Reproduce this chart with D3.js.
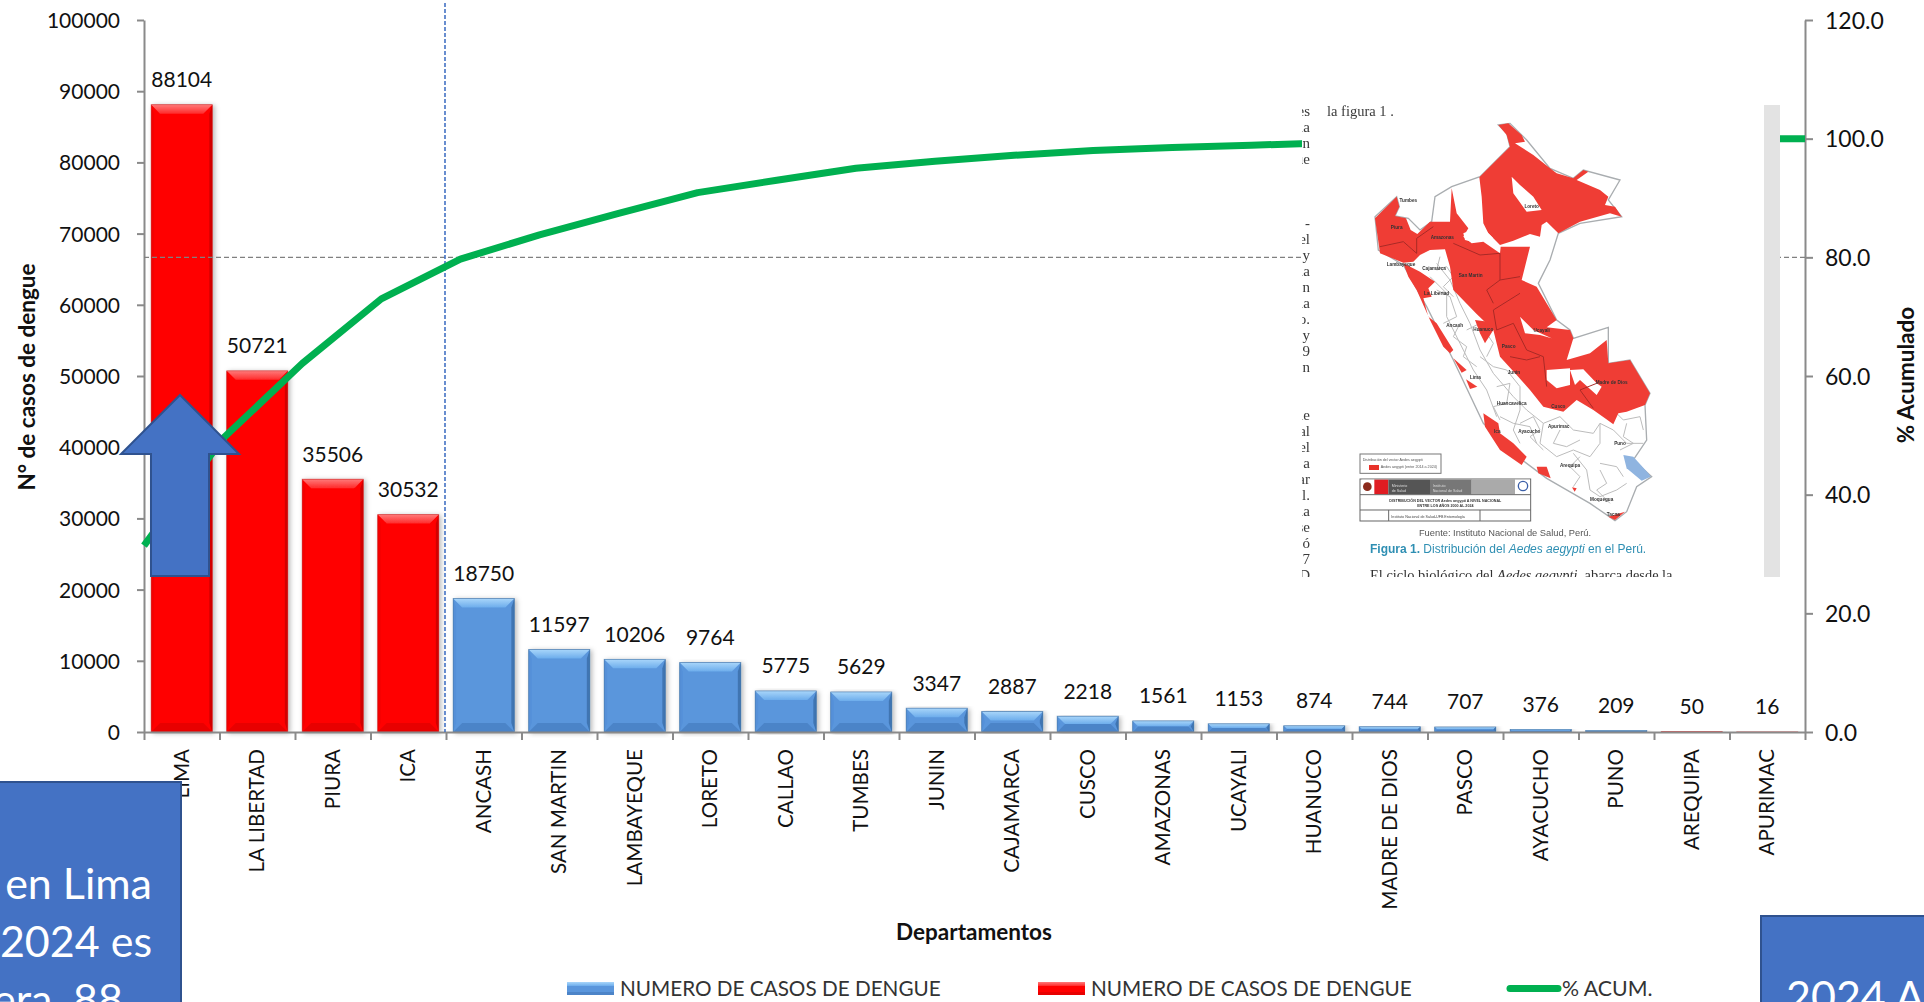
<!DOCTYPE html>
<html lang="es">
<head>
<meta charset="utf-8">
<title>Casos de dengue por departamento</title>
<script src="https://cdn.jsdelivr.net/npm/d3@7"></script>
<style>
  html, body { margin: 0; padding: 0; background: #fff; overflow: hidden; }
  svg { display: block; }
</style>
</head>
<body>
<svg id="chart" width="1924" height="1002" font-family="Lato"></svg>
<script>
// Departamentos ordenados de mayor a menor número de casos
const categories = ["LIMA","LA LIBERTAD","PIURA","ICA","ANCASH","SAN MARTIN","LAMBAYEQUE","LORETO","CALLAO","TUMBES","JUNIN","CAJAMARCA","CUSCO","AMAZONAS","UCAYALI","HUANUCO","MADRE DE DIOS","PASCO","AYACUCHO","PUNO","AREQUIPA","APURIMAC"];
const casosAzul = [null,null,null,null,18750,11597,10206,9764,5775,5629,3347,2887,2218,1561,1153,874,744,707,376,209,null,null];
const casosRojo = [88104,50721,35506,30532,null,null,null,null,null,null,null,null,null,null,null,null,null,null,null,null,50,16];
const porcentajeAcumulado = [31.4,49.5,62.1,73.0,79.7,83.8,87.4,90.9,93.0,95.0,96.2,97.2,98.0,98.5,98.9,99.3,99.5,99.8,99.9,100.0,100.0,100.0];
const ticksCasos = [0,10000,20000,30000,40000,50000,60000,70000,80000,90000,100000];
const ticksPorcentaje = [0,20,40,60,80,100,120];
const leyenda = ["NUMERO DE CASOS DE DENGUE","NUMERO DE CASOS DE DENGUE","% ACUM."];

const svg = d3.select("#chart");
const defs = svg.append("defs");

const plotLeft = 144, plotRight = 1805, plotTop = 20, plotBottom = 732;
const x = d3.scaleBand().domain(categories).range([plotLeft, plotRight]).paddingInner(0.19).paddingOuter(0.095);
const xEdges = d3.scaleLinear().domain([0, categories.length]).range([plotLeft, plotRight]);
const xLine = d3.scalePoint().domain(categories).range([plotLeft, plotRight]);
const yCases = d3.scaleLinear().domain([0, 100000]).range([plotBottom, plotTop]);
const yPct = d3.scaleLinear().domain([0, 120]).range([plotBottom, plotTop]);

const shadow = defs.append("filter").attr("id", "barShadow")
  .attr("x", "-10%").attr("y", "-5%").attr("width", "125%").attr("height", "112%");
shadow.append("feDropShadow").attr("dx", 2).attr("dy", 1).attr("stdDeviation", 2.5)
  .attr("flood-color", "#000").attr("flood-opacity", 0.28);
defs.append("filter").attr("id", "soft").append("feGaussianBlur").attr("stdDeviation", 0.5);
defs.append("clipPath").attr("id", "insetClip").append("rect")
  .attr("x", 1302).attr("y", 105).attr("width", 478).attr("height", 472);

function addGradient(id, a, b) {
  const g = defs.append("linearGradient").attr("id", id).attr("x1", 0).attr("y1", 0).attr("x2", 0).attr("y2", 1);
  g.append("stop").attr("offset", "0%").attr("stop-color", a);
  g.append("stop").attr("offset", "100%").attr("stop-color", b);
}
addGradient("bevelBlue", "#a9d6fa", "#6dadec");
addGradient("bevelRed", "#ff7a7a", "#ff2a2a");

const paletteBlue = { face: "#5a96dc", topFill: "url(#bevelBlue)", bottomFill: "#4c84c8", leftFill: "#5490d8", rightFill: "#3f74b2", edge: "#41709f" };
const paletteRed  = { face: "#ff0000", topFill: "url(#bevelRed)",  bottomFill: "#e80000", leftFill: "#f40000", rightFill: "#d20000", edge: "#c43a3a" };

// Barra con biselado: cara central y cuatro trapecios en los bordes
function drawBars(values, palette) {
  const rows = categories.map((c, i) => ({ c, v: values[i] })).filter(d => d.v !== null);
  const g = svg.append("g").selectAll("g").data(rows).join("g").attr("filter", "url(#barShadow)");
  g.each(function (d) {
    const sel = d3.select(this);
    const x0 = x(d.c), x1 = x0 + x.bandwidth(), y0 = yCases(d.v), y1 = yCases(0);
    const b = Math.min(9, (y1 - y0) / 2);
    const poly = (pts, fill) => sel.append("polygon").attr("points", pts.map(p => p.join(",")).join(" ")).attr("fill", fill);
    sel.append("rect").attr("x", x0).attr("y", y0).attr("width", x1 - x0).attr("height", y1 - y0).attr("fill", palette.face);
    poly([[x0, y0], [x1, y0], [x1 - b, y0 + b], [x0 + b, y0 + b]], palette.topFill);
    poly([[x0, y1], [x1, y1], [x1 - b, y1 - b], [x0 + b, y1 - b]], palette.bottomFill);
    poly([[x0, y0], [x0 + Math.min(b, 3), y0 + b], [x0 + Math.min(b, 3), y1 - b], [x0, y1]], palette.leftFill);
    poly([[x1, y0], [x1 - Math.min(b, 3), y0 + b], [x1 - Math.min(b, 3), y1 - b], [x1, y1]], palette.rightFill);
    sel.append("rect").attr("x", x0).attr("y", y0).attr("width", x1 - x0).attr("height", y1 - y0)
      .attr("fill", "none").attr("stroke", palette.edge).attr("stroke-width", 0.8).attr("stroke-opacity", 0.7);
  });
}
drawBars(casosAzul, paletteBlue);
drawBars(casosRojo, paletteRed);

// Ejes
const axisColor = "#8a8a8a";
function styleAxis(g, size) {
  g.selectAll(".domain").attr("stroke", axisColor).attr("stroke-width", 2);
  g.selectAll(".tick line").attr("stroke", axisColor).attr("stroke-width", 2);
  g.selectAll("text").attr("fill", "#111").attr("font-size", size).attr("font-family", "Lato").attr("dy", "0.36em");
}
svg.append("g").attr("transform", `translate(${plotLeft},0)`)
  .call(d3.axisLeft(yCases).tickValues(ticksCasos).tickFormat(d3.format("d")).tickSize(7).tickPadding(17).tickSizeOuter(0))
  .call(styleAxis, 21);
svg.append("g").attr("transform", `translate(${plotRight},0)`)
  .call(d3.axisRight(yPct).tickValues(ticksPorcentaje).tickFormat(d3.format(".1f")).tickSize(8).tickPadding(12).tickSizeOuter(0))
  .call(styleAxis, 23);
svg.append("g").attr("transform", `translate(0,${plotBottom})`)
  .call(d3.axisBottom(xEdges).tickValues(d3.range(categories.length + 1)).tickFormat("").tickSize(8).tickSizeOuter(0))
  .call(styleAxis, 21);
const catAxis = svg.append("g").attr("transform", `translate(0,${plotBottom})`)
  .call(d3.axisBottom(x).tickSize(0).tickPadding(0));
catAxis.select(".domain").remove();
catAxis.selectAll("text")
  .attr("font-size", 20.6).attr("font-family", "Lato").attr("fill", "#111")
  .attr("text-anchor", "end").attr("dy", "0.35em")
  .attr("transform", "translate(0,17) rotate(-90)").attr("x", 0).attr("y", 0);

// Valores sobre las barras
categories.forEach((c, i) => {
  const v = casosAzul[i] !== null ? casosAzul[i] : casosRojo[i];
  svg.append("text").attr("x", x(c) + x.bandwidth() / 2).attr("y", yCases(v) - 17.5)
    .attr("text-anchor", "middle").attr("font-size", 21).attr("fill", "#111").text(v);
});

// Títulos de ejes
svg.append("text").attr("transform", "translate(35,377) rotate(-90)").attr("text-anchor", "middle")
  .attr("font-size", 22.5).attr("font-weight", 700).attr("fill", "#111").text("N° de casos de dengue");
svg.append("text").attr("transform", "translate(1914,375) rotate(-90)").attr("text-anchor", "middle")
  .attr("font-size", 22.5).attr("font-weight", 700).attr("fill", "#111").text("% Acumulado");
svg.append("text").attr("x", 974).attr("y", 940).attr("text-anchor", "middle")
  .attr("font-size", 22.5).attr("font-weight", 700).attr("fill", "#111").text("Departamentos");

// Líneas de referencia del 80 %
svg.append("line").attr("x1", plotLeft).attr("x2", plotRight).attr("y1", yPct(80)).attr("y2", yPct(80))
  .attr("stroke", "#808080").attr("stroke-width", 1.4).attr("stroke-dasharray", "5 3");
svg.append("line").attr("x1", 445).attr("x2", 445).attr("y1", 3).attr("y2", plotBottom)
  .attr("stroke", "#4472c4").attr("stroke-width", 1.6).attr("stroke-dasharray", "4 2");

// Curva de porcentaje acumulado
svg.append("path").datum(porcentajeAcumulado)
  .attr("d", d3.line().x((d, i) => xLine(categories[i])).y(d => yPct(d)))
  .attr("fill", "none").attr("stroke", "#00b050").attr("stroke-width", 7).attr("stroke-linejoin", "round");

// Recuadro con la figura del vector en el Perú
const inset = svg.append("g").attr("clip-path", "url(#insetClip)");
inset.append("rect").attr("x", 1302).attr("y", 105).attr("width", 478).attr("height", 472).attr("fill", "#fff");
inset.append("rect").attr("x", 1764).attr("y", 105).attr("width", 16).attr("height", 472).attr("fill", "#e3e3e3");
const figure = inset.append("g").attr("filter", "url(#soft)");

const fragmentos = ["es","ia","en","ue","","","","-","del","y","la","on","la","o.","y","9","en","","","le","al","el","a","ar","l.","ia","se","ó","7","D","n"];
figure.selectAll("text.frag").data(fragmentos).join("text").attr("class", "frag")
  .attr("x", 1310).attr("y", (d, i) => 116 + i * 16).attr("text-anchor", "end")
  .attr("font-family", "Liberation Serif").attr("font-size", 15).attr("fill", "#3a3a3a").text(d => d);
figure.append("text").attr("x", 1327).attr("y", 116).attr("font-family", "Liberation Serif")
  .attr("font-size", 14.5).attr("fill", "#3a3a3a").text("la figura 1 .");

const map = figure.append("g").attr("transform", "translate(1280,90) scale(0.33333)");
const outlinePeru = "M655,105L690,100L740,150L810,235L880,265L910,240L1020,270L985,330L1025,380L900,400L835,430L810,510L775,580L830,690L870,720L880,745L985,712L985,820L1050,810L1110,910L1095,945L1100,1050L1060,1110L1115,1160L1070,1190L1040,1265L1005,1292L930,1240L800,1165L700,1090L610,1000L520,810L440,650L370,525L295,480L285,380L350,320L358,350L345,378L385,385L420,420L455,395L465,320L515,290L600,260L690,170L680,130Z";
const zonasRojas = [
  "M655,105L685,100L725,135L735,155L705,160L760,195L810,235L830,250L880,265L910,240L925,245L890,270L960,300L985,320L975,345L1005,350L1025,380L990,370L900,395L835,430L800,395L785,405L780,440L750,432L700,452L660,465L625,430L610,400L605,320L598,262L640,220L690,170L680,135Z",
  "M350,320L358,350L345,378L378,385L392,420L412,432L450,395L510,395L515,295L530,370L565,415L550,440L575,460L610,455L660,490L662,470L700,470L750,470L725,570L770,590L830,690L800,712L870,720L880,745L860,810L930,790L980,750L985,820L1050,810L1110,910L1095,945L1040,965L1015,970L1000,1003L975,985L940,960L890,930L850,965L790,950L750,900L710,855L660,800L640,720L590,672L520,600L510,530L495,478L450,480L420,495L400,515L370,518L300,490L285,385Z",
  "M370,520L420,545L465,575L445,595L455,620L430,625L445,680L470,700L520,780L510,790L490,770L450,690L410,600L385,560Z",
  "M520,805L560,840L545,848Z",
  "M558,868L592,890L570,897Z",
  "M610,970L655,1000L660,1030L700,1060L740,1100L725,1125L660,1080L615,1010Z",
  "M770,1130L800,1130L812,1165L775,1150Z",
  "M876,1192L890,1195L884,1205Z",
  "M985,1280L1035,1265L1005,1290Z",
  "M585,690L625,695L640,720L615,760L600,730Z"
];
const huecos = [
  "M695,260L720,285L760,320L785,360L740,365L700,310Z",
  "M720,680L760,720L815,745L780,735L735,730Z",
  "M800,840L870,835L870,885L830,895L800,870Z",
  "M870,840L910,838L950,880L965,890L950,915L900,870L885,885Z",
  "M610,415L640,445L600,432L565,425L575,455L555,450L550,430L580,418Z"
];
const limitesGrises = [
  "M470,520L510,570L540,640L570,700L600,780L640,850L700,920L740,960",
  "M450,560L500,610L500,680L540,760L580,840L620,900L650,980",
  "M600,800L640,830L680,840L720,890L720,960L700,1020L720,1060",
  "M740,960L790,1000L780,1060L830,1100L880,1080L930,1100L960,1060L960,1000",
  "M790,1000L840,980L880,1020L940,1030L960,1000L1000,1020L1040,1060L1090,1060",
  "M880,1090L920,1140L930,1200L960,1220L1010,1200L1040,1180",
  "M960,1120L1010,1130L1030,1160",
  "M560,720L600,700L640,760L620,800",
  "M470,600L510,620L530,680L490,700",
  "M660,980L700,1000L750,1010L770,1060",
  "M480,500L470,540L500,530L520,560L490,590L520,620",
  "M540,700L520,740L560,770L550,800L590,830",
  "M650,890L690,880L680,940L640,950L660,990",
  "M720,1000L760,980L780,1020L750,1040L790,1080",
  "M840,1020L820,1060L860,1070L900,1050",
  "M900,1100L870,1130L900,1160L880,1190",
  "M960,1140L980,1180L950,1200L990,1240",
  "M1040,1000L1030,1040L1060,1060L1020,1080",
  "M1000,960L1030,990L1080,980L1090,1020"
];
const limitesRojos = [
  "M520,460L600,495L660,490L660,570L620,600L640,640",
  "M660,570L720,560M720,610L640,660L650,720L700,700L740,780L790,800L800,890",
  "M300,470L370,455L410,490L410,445L460,410",
  "M780,800L740,810L690,800M950,880L900,900L940,955"
];
map.append("path").attr("d", outlinePeru).attr("fill", "#fff").attr("stroke", "#a9adb0").attr("stroke-width", 4);
map.selectAll("path.gris").data(limitesGrises).join("path").attr("class", "gris").attr("d", d => d)
  .attr("fill", "none").attr("stroke", "#bcbcbc").attr("stroke-width", 3);
map.selectAll("path.rojo").data(zonasRojas).join("path").attr("class", "rojo").attr("d", d => d).attr("fill", "#ef3d36");
map.selectAll("path.hueco").data(huecos).join("path").attr("class", "hueco").attr("d", d => d).attr("fill", "#fff");
map.selectAll("path.borde").data(limitesRojos).join("path").attr("class", "borde").attr("d", d => d)
  .attr("fill", "none").attr("stroke", "#a92a26").attr("stroke-width", 3);
map.append("path").attr("d", "M1030,1095L1060,1100L1105,1150L1112,1160L1085,1172L1040,1135Z").attr("fill", "#8fb4e0");

const nombresMapa = [["Tumbes",385,335],["Piura",350,418],["Amazonas",487,448],["Lambayeque",363,527],["Cajamarca",462,541],["San Martin",572,562],["La Libertad",470,615],["Loreto",755,355],["Ancash",524,712],["Huanuco",610,722],["Ucayali",785,725],["Pasco",686,773],["Lima",586,866],["Junin",702,852],["Madre de Dios",995,882],["Huancavelica",695,946],["Cusco",835,955],["Ayacucho",748,1028],["Apurimac",836,1014],["Ica",652,1028],["Puno",1020,1064],["Arequipa",870,1130],["Moquegua",965,1233],["Tacna",1000,1278]];
map.selectAll("text.lugar").data(nombresMapa).join("text").attr("class", "lugar")
  .attr("x", d => d[1]).attr("y", d => d[2]).attr("text-anchor", "middle")
  .attr("font-family", "Liberation Sans").attr("font-size", 14).attr("font-weight", 700).attr("fill", "#333").text(d => d[0]);

// Leyenda y rótulo del mapa
map.append("rect").attr("x", 240).attr("y", 1092).attr("width", 243).attr("height", 58).attr("fill", "#fff").attr("stroke", "#777").attr("stroke-width", 3);
map.append("rect").attr("x", 267).attr("y", 1125).attr("width", 30).attr("height", 15).attr("fill", "#e8322c");
map.append("text").attr("x", 248).attr("y", 1113).attr("font-family", "Liberation Sans").attr("font-size", 11).attr("fill", "#555").text("Distribución del vector Aedes aegypti");
map.append("text").attr("x", 302).attr("y", 1135).attr("font-family", "Liberation Sans").attr("font-size", 11).attr("fill", "#555").text("Aedes aegypti (entre 2014 a 2024)");
map.append("rect").attr("x", 240).attr("y", 1167).attr("width", 512).attr("height", 126).attr("fill", "#fff").attr("stroke", "#666").attr("stroke-width", 3);
[[245, 38, "#fff"], [283, 42, "#e01b22"], [325, 125, "#555"], [450, 125, "#777"], [575, 130, "#aaa"], [705, 45, "#fff"]].forEach(d => {
  map.append("rect").attr("x", d[0]).attr("y", 1169).attr("width", d[1]).attr("height", 44).attr("fill", d[2]);
});
map.append("circle").attr("cx", 262).attr("cy", 1190).attr("r", 13).attr("fill", "#8b2c1a");
map.append("circle").attr("cx", 729).attr("cy", 1188).attr("r", 14).attr("fill", "none").attr("stroke", "#3a5ea8").attr("stroke-width", 4);
[["Ministerio", 335, 1190], ["de Salud", 335, 1205], ["Instituto", 458, 1190], ["Nacional de Salud", 458, 1205]].forEach(d => {
  map.append("text").attr("x", d[1]).attr("y", d[2]).attr("font-family", "Liberation Sans").attr("font-size", 11).attr("fill", "#ddd").text(d[0]);
});
map.append("path").attr("d", "M240,1214H752M240,1260H752M326,1260V1293M600,1260V1293").attr("stroke", "#666").attr("stroke-width", 3).attr("fill", "none");
map.append("text").attr("x", 496).attr("y", 1236).attr("text-anchor", "middle").attr("font-family", "Liberation Sans").attr("font-size", 11).attr("font-weight", 700).attr("fill", "#333").text("DISTRIBUCIÓN DEL VECTOR Aedes aegypti A NIVEL NACIONAL");
map.append("text").attr("x", 496).attr("y", 1251).attr("text-anchor", "middle").attr("font-family", "Liberation Sans").attr("font-size", 11).attr("font-weight", 700).attr("fill", "#333").text("ENTRE LOS AÑOS 2000 AL 2024");
map.append("text").attr("x", 334).attr("y", 1285).attr("font-family", "Liberation Sans").attr("font-size", 11).attr("fill", "#444").text("Instituto Nacional de Salud-UFB Entomología");

figure.append("text").attr("x", 1505).attr("y", 536).attr("text-anchor", "middle").attr("font-family", "Liberation Sans")
  .attr("font-size", 9.3).attr("fill", "#555").text("Fuente: Instituto Nacional de Salud, Perú.");
const pie = figure.append("text").attr("x", 1370).attr("y", 553).attr("font-family", "Liberation Sans").attr("font-size", 12).attr("fill", "#2f8fb3");
pie.append("tspan").attr("font-weight", 700).text("Figura 1. ");
pie.append("tspan").text("Distribución del ");
pie.append("tspan").attr("font-style", "italic").text("Aedes aegypti");
pie.append("tspan").text(" en el Perú.");
const parrafo = figure.append("text").attr("x", 1370).attr("y", 580).attr("font-family", "Liberation Serif").attr("font-size", 14.4).attr("fill", "#333");
parrafo.append("tspan").text("El ciclo biológico del ");
parrafo.append("tspan").attr("font-style", "italic").text("Aedes aegypti");
parrafo.append("tspan").text(", abarca desde la");

// Flecha y recuadros de texto
const arrowTip = [180, 395], headY = 454, headHalf = 59, shaftHalf = 29, arrowEnd = 576;
svg.append("polygon").attr("points", [
  arrowTip,
  [arrowTip[0] + headHalf, headY], [arrowTip[0] + shaftHalf, headY], [arrowTip[0] + shaftHalf, arrowEnd],
  [arrowTip[0] - shaftHalf, arrowEnd], [arrowTip[0] - shaftHalf, headY], [arrowTip[0] - headHalf, headY]
].map(p => p.join(",")).join(" ")).attr("fill", "#4472c4").attr("stroke", "#2f528f").attr("stroke-width", 2);

svg.append("rect").attr("x", -10).attr("y", 782).attr("width", 191).attr("height", 240)
  .attr("fill", "#4472c4").attr("stroke", "#2f528f").attr("stroke-width", 2);
[["en Lima", 152, 899], ["2024 es", 152, 957], ["era, 88", 123, 1015]].forEach(d => {
  svg.append("text").attr("x", d[1]).attr("y", d[2]).attr("text-anchor", "end").attr("font-size", 43).attr("fill", "#fff").text(d[0]);
});
svg.append("rect").attr("x", 1761).attr("y", 916).attr("width", 180).attr("height", 110)
  .attr("fill", "#4472c4").attr("stroke", "#2f528f").attr("stroke-width", 2);
svg.append("text").attr("x", 1786).attr("y", 1012).attr("font-size", 43).attr("fill", "#fff").text("2024 A");

// Leyenda del gráfico
function legendBar(xPos, palette) {
  const g = svg.append("g");
  g.append("rect").attr("x", xPos).attr("y", 982).attr("width", 47).attr("height", 13).attr("fill", palette.face);
  g.append("rect").attr("x", xPos).attr("y", 982).attr("width", 47).attr("height", 4).attr("fill", palette.topFill);
  g.append("rect").attr("x", xPos).attr("y", 992).attr("width", 47).attr("height", 3).attr("fill", palette.bottomFill);
}
legendBar(567, paletteBlue);
legendBar(1038, paletteRed);
svg.append("line").attr("x1", 1510).attr("x2", 1558).attr("y1", 988.5).attr("y2", 988.5)
  .attr("stroke", "#00b050").attr("stroke-width", 7).attr("stroke-linecap", "round");
[[620, 0, 20.7], [1091, 1, 20.7], [1562, 2, 21.3]].forEach(d => {
  svg.append("text").attr("x", d[0]).attr("y", 996).attr("font-size", d[2]).attr("fill", "#333").text(leyenda[d[1]]);
});
</script>
</body>
</html>
